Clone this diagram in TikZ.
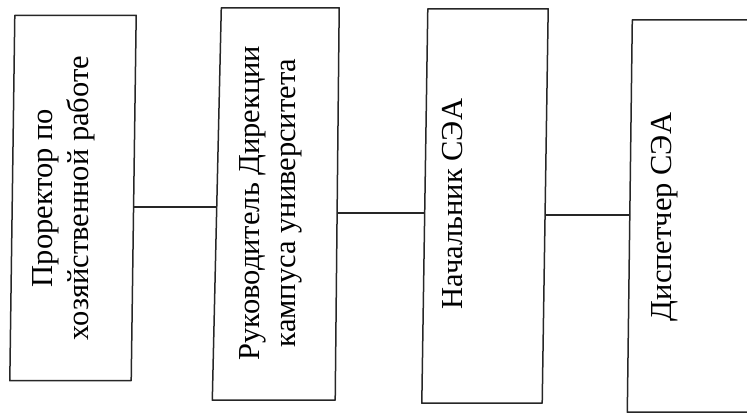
\documentclass[tikz,border=0pt]{standalone}
\usepackage{fontspec}
\setmainfont{Liberation Serif}
\begin{document}
\begin{tikzpicture}[x=1pt,y=-1pt,
  box/.style={draw=none, inner sep=0pt},
  outline/.style={draw=black!85, line width=1.5pt, line join=round},
  link/.style={draw=black!85, line width=1.4pt},
  caption/.style={rotate=90, inner sep=0pt, align=center,
    font=\fontsize{30.5}{36}\selectfont}]
\useasboundingbox (0,0) rectangle (747,414);

% boxes (frames are drawn slightly skewed below)
\node[box, minimum width=121pt, minimum height=365pt] (b1) at (73,198) {};
\node[box, minimum width=120pt, minimum height=392pt] (b2) at (277,204) {};
\node[box, minimum width=120pt, minimum height=394pt] (b3) at (485,206) {};
\node[box, minimum width=122pt, minimum height=392pt] (b4) at (691,216) {};

\draw[outline] ([xshift=2.5pt]b1.north west) -- ([xshift=2.5pt]b1.north east)
  -- ([xshift=-2.5pt]b1.south east) -- ([xshift=-2.5pt]b1.south west) -- cycle;
\draw[outline] ([xshift=4.5pt]b2.north west) -- ([xshift=2pt]b2.north east)
  -- ([xshift=-2pt]b2.south east) -- ([xshift=-4.5pt]b2.south west) -- cycle;
\draw[outline] ([xshift=3pt]b3.north west) -- ([xshift=3pt]b3.north east)
  -- ([xshift=-3pt]b3.south east) -- ([xshift=-3pt]b3.south west) -- cycle;
\draw[outline] ([xshift=2.5pt]b4.north west) -- ([xshift=2.5pt]b4.north east)
  -- ([xshift=-2.5pt]b4.south east) -- ([xshift=-2.5pt]b4.south west) -- cycle;

% captions
\node[caption] (t1) at (63.5,198) {Проректор по\\хозяйственной работе};
\node[caption] (t2) at (271,203) {Руководитель Дирекции\\кампуса университета};
\node[caption] (t3) at (452.5,204) {Начальник СЭА};
\node[caption] (t4) at (665,217) {Диспетчер СЭА};

% connectors
\draw[link] ([yshift=-9pt]b1.east) -- ([yshift=-9pt]b1.east -| b2.west);
\draw[link] ([yshift=-9pt]b2.east) -- ([yshift=-9pt]b2.east -| b3.west);
\draw[link] ([yshift=-9pt]b3.east) -- ([yshift=-9pt]b3.east -| b4.west);
\end{tikzpicture}
\end{document}
